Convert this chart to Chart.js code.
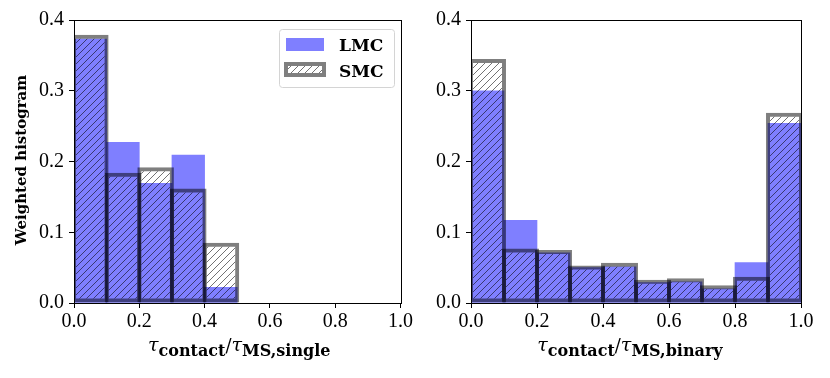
<!DOCTYPE html>
<html lang="en">
<head>
<meta charset="UTF-8">
<script src="https://cdn.jsdelivr.net/npm/chart.js"></script>
<style>
    body, html { margin: 0; padding: 0; background: #fff; }
    #wrap { position: relative; width: 830px; height: 378px; }
    .panel { position: absolute; top: 0; width: 415px; height: 378px; }
</style>
</head>
<body>
<div id="wrap">
    <div class="panel" style="left:0"><canvas id="single"></canvas></div>
    <div class="panel" style="left:415px"><canvas id="binary"></canvas></div>
</div>
<script>
// bin centres (bins of width 0.1)
const singleBins = [0.05, 0.15, 0.25, 0.35, 0.45];
const singleLMC = [0.373, 0.227, 0.169, 0.209, 0.022];
const singleSMC = [0.379, 0.184, 0.192, 0.162, 0.085];

const binaryBins = [0.05, 0.15, 0.25, 0.35, 0.45, 0.55, 0.65, 0.75, 0.85, 0.95];
const binaryLMC = [0.300, 0.117, 0.071, 0.050, 0.051, 0.029, 0.030, 0.020, 0.057, 0.254];
const binarySMC = [0.345, 0.077, 0.075, 0.053, 0.057, 0.033, 0.035, 0.025, 0.037, 0.269];

const yTicks = [0.0, 0.1, 0.2, 0.3, 0.4];
const xTicks = [0.0, 0.2, 0.4, 0.6, 0.8, 1.0];

const tickFont = { family: 'Liberation Serif', size: 20 };
const boldFont = '"DejaVu Serif"';

function hatch(color) {
    const c = document.createElement('canvas');
    c.width = 7; c.height = 7;
    const g = c.getContext('2d');
    g.strokeStyle = color;
    g.lineWidth = 1;
    g.beginPath();
    g.moveTo(0, 7); g.lineTo(7, 0);
    g.moveTo(-1, 1); g.lineTo(1, -1);
    g.moveTo(6, 8); g.lineTo(8, 6);
    g.stroke();
    return g.createPattern(c, 'repeat');
}
const hatchFill = hatch('rgba(0,0,0,0.55)');

// axes box + x label with subscripts
const framePlugin = {
    id: 'frame',
    afterDatasetsDraw(chart, args, opts) {
        const ctx = chart.ctx, a = chart.chartArea;
        ctx.save();
        ctx.strokeStyle = '#000';
        ctx.lineWidth = 1;
        ctx.strokeRect(Math.round(a.left) + 0.5, Math.round(a.top) + 0.5,
            Math.round(a.right - a.left), Math.round(a.bottom - a.top));
        ctx.restore();
    },
    afterDraw(chart, args, opts) {
        const ctx = chart.ctx, a = chart.chartArea;
        const parts = [
            { t: 'τ', f: 'italic 19px "DejaVu Serif"', dy: 0 },
            { t: 'contact', f: 'bold 16px ' + boldFont, dy: 5 },
            { t: '/', f: '18px "DejaVu Serif"', dy: 1 },
            { t: 'τ', f: 'italic 19px "DejaVu Serif"', dy: 0 },
            { t: opts.sub, f: 'bold 16px ' + boldFont, dy: 5 }
        ];
        ctx.save();
        ctx.fillStyle = '#000';
        ctx.textBaseline = 'alphabetic';
        let w = 0;
        parts.forEach(p => { ctx.font = p.f; p.w = ctx.measureText(p.t).width; w += p.w; });
        let x = (a.left + a.right) / 2 - w / 2 + opts.shift;
        const base = 351;
        parts.forEach(p => { ctx.font = p.f; ctx.fillText(p.t, x, base + p.dy); x += p.w; });

        if (opts.ytitle) {
            ctx.translate(26, 160);
            ctx.rotate(-Math.PI / 2);
            ctx.font = 'bold 15px ' + boldFont;
            ctx.textAlign = 'center';
            ctx.fillText('Weighted histogram', 0, 0);
        }
        ctx.restore();
    }
};

const legendPlugin = {
    id: 'boxLegend',
    afterDraw(chart, args, opts) {
        if (!opts.show) return;
        const ctx = chart.ctx;
        ctx.save();
        ctx.beginPath();
        ctx.roundRect(279.5, 29.5, 115, 58, 3);
        ctx.fillStyle = 'rgba(255,255,255,0.8)';
        ctx.fill();
        ctx.strokeStyle = '#d4d4d4';
        ctx.lineWidth = 1;
        ctx.stroke();

        ctx.fillStyle = 'rgba(0,0,255,0.5)';
        ctx.fillRect(286, 38, 38, 13);

        ctx.fillStyle = hatchFill;
        ctx.fillRect(288, 66, 34, 7);
        ctx.strokeStyle = 'rgba(0,0,0,0.5)';
        ctx.lineWidth = 4;
        ctx.strokeRect(286, 64, 38, 11);

        ctx.fillStyle = '#000';
        ctx.font = 'bold 17px ' + boldFont;
        ctx.textBaseline = 'alphabetic';
        ctx.fillText('LMC', 339, 51);
        ctx.fillText('SMC', 339, 77);
        ctx.restore();
    }
};

function makeChart(id, bins, lmc, smc, yWidth, padRight, sub, first) {
    const toPts = (vals) => vals.map((v, i) => ({ x: bins[i], y: v }));
    return new Chart(document.getElementById(id), {
        type: 'bar',
        data: {
            datasets: [
                {
                    label: 'SMC',
                    data: toPts(smc),
                    backgroundColor: hatchFill,
                    borderColor: 'rgba(0,0,0,0.5)',
                    borderWidth: 4,
                    borderSkipped: false,
                    barPercentage: 1.12,
                    categoryPercentage: 1,
                    grouped: false
                },
                {
                    label: 'LMC',
                    data: toPts(lmc),
                    backgroundColor: 'rgba(0,0,255,0.5)',
                    borderWidth: 0,
                    barPercentage: 1,
                    categoryPercentage: 1,
                    grouped: false
                }
            ]
        },
        options: {
            responsive: true,
            maintainAspectRatio: false,
            animation: false,
            devicePixelRatio: 1,
            layout: { padding: { top: 20, right: padRight, left: 0, bottom: 0 } },
            scales: {
                x: {
                    type: 'linear',
                    min: 0, max: 1,
                    offset: false,
                    afterFit: s => { s.height = 75; },
                    afterBuildTicks: s => { s.ticks = xTicks.map(v => ({ value: v })); },
                    grid: { display: true, offset: false, drawOnChartArea: false, drawTicks: true, tickLength: 5, tickColor: '#000', color: '#000' },
                    border: { display: true, color: '#000' },
                    ticks: { color: '#000', font: tickFont, padding: 2, maxRotation: 0, autoSkip: false, callback: v => v.toFixed(1) }
                },
                y: {
                    min: 0, max: 0.4,
                    afterFit: s => { s.width = yWidth; },
                    afterBuildTicks: s => { s.ticks = yTicks.map(v => ({ value: v })); },
                    grid: { display: true, drawOnChartArea: false, drawTicks: true, tickLength: 5, tickColor: '#000', color: '#000' },
                    border: { display: true, color: '#000' },
                    ticks: { color: '#000', font: tickFont, padding: 5, callback: v => v.toFixed(1) }
                }
            },
            plugins: {
                legend: { display: false },
                tooltip: { enabled: false },
                frame: { sub: sub, ytitle: first, shift: first ? 2 : -6 },
                boxLegend: { show: first }
            }
        },
        plugins: [framePlugin, legendPlugin]
    });
}

makeChart('single', singleBins, singleLMC, singleSMC, 74, 12, 'MS,single', true);
makeChart('binary', binaryBins, binaryLMC, binarySMC, 56, 29, 'MS,binary', false);
</script>
</body>
</html>
